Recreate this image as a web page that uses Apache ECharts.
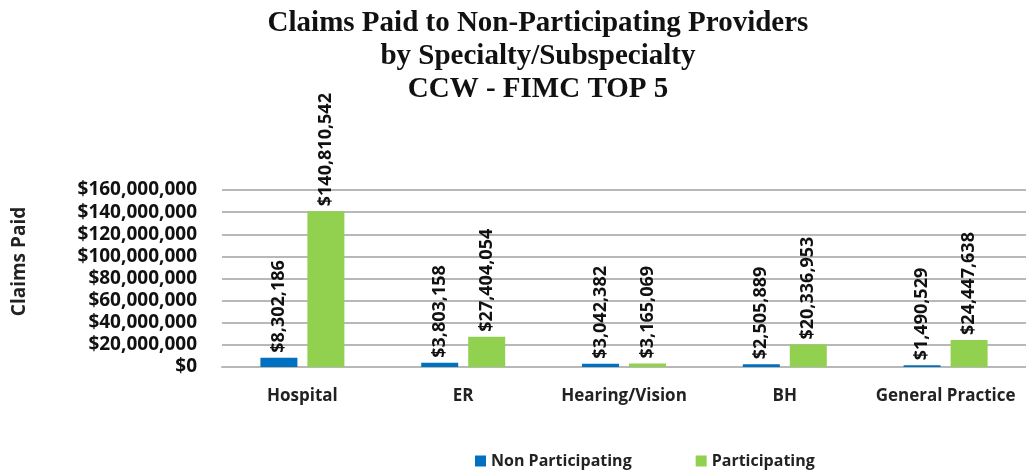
<!DOCTYPE html>
<html>
<head>
<meta charset="utf-8">
<script src="https://cdn.jsdelivr.net/npm/echarts@6/dist/echarts.min.js"></script>
<style>
  html, body { margin: 0; padding: 0; background: #fff; }
  #main { width: 1026px; height: 474px; }
</style>
</head>
<body>
<div id="main"></div>
<script>
// data
var categories = ['Hospital', 'ER', 'Hearing/Vision', 'BH', 'General Practice'];
var nonParticipating = [8302186, 3803158, 3042382, 2505889, 1490529];
var participating = [140810542, 27404054, 3165069, 20336953, 24447638];
var seriesNames = ['Non Participating', 'Participating'];

var chart = echarts.init(document.getElementById('main'));

function money(v) {
  return '$' + Math.round(v).toString().replace(/\B(?=(\d{3})+(?!\d))/g, ',');
}

var labelOpt = {
  show: true,
  position: 'top',
  rotate: 90,
  align: 'left',
  verticalAlign: 'middle',
  distance: 5,
  color: '#111',
  fontFamily: 'Open Sans',
  fontWeight: 'bold',
  fontSize: 18,
  formatter: function (p) { return money(p.value); }
};

var option = {
  backgroundColor: '#fff',
  title: {
    text: 'Claims Paid to Non-Participating Providers\nby Specialty/Subspecialty\nCCW - FIMC TOP 5',
    left: 533,
    top: 2,
    textAlign: 'center',
    textStyle: {
      fontFamily: 'Liberation Serif',
      fontWeight: 'bold',
      fontSize: 29,
      lineHeight: 33,
      color: '#111'
    }
  },
  legend: {
    bottom: 0,
    left: 470,
    itemWidth: 11,
    itemHeight: 11,
    itemGap: 64,
    icon: 'rect',
    textStyle: { fontFamily: 'Open Sans', fontWeight: 'bold', fontSize: 16, color: '#222' },
    data: seriesNames
  },
  grid: { left: 222, right: 0, top: 190, bottom: 107 },
  xAxis: {
    type: 'category',
    data: categories,
    axisTick: { show: false },
    axisLine: { lineStyle: { color: '#b8b8b8', width: 2 } },
    axisLabel: {
      interval: 0,
      margin: 21,
      fontFamily: 'Open Sans',
      fontWeight: 'bold',
      fontSize: 17,
      color: '#222'
    }
  },
  yAxis: {
    type: 'value',
    min: 0,
    max: 160000000,
    interval: 20000000,
    name: 'Claims Paid',
    nameLocation: 'middle',
    nameRotate: 90,
    nameGap: 193,
    nameTextStyle: {
      fontFamily: 'Open Sans', fontWeight: 'bold', fontSize: 19, color: '#222',
      padding: [0, 0, 0, 34]
    },
    axisLine: { show: false },
    axisTick: { show: false },
    splitLine: { lineStyle: { color: '#b8b8b8', width: 2 } },
    axisLabel: {
      margin: 25,
      fontFamily: 'Open Sans',
      fontWeight: 'bold',
      fontSize: 19,
      color: '#111',
      formatter: function (v) { return money(v); }
    }
  },
  series: [
    {
      name: seriesNames[0],
      type: 'bar',
      data: nonParticipating,
      barWidth: 37,
      barGap: '27%',
      itemStyle: { color: '#0070C0' },
      label: labelOpt
    },
    {
      name: seriesNames[1],
      type: 'bar',
      data: participating,
      barWidth: 37,
      itemStyle: { color: '#92D050' },
      label: labelOpt
    }
  ]
};

chart.setOption(option);
</script>
</body>
</html>
